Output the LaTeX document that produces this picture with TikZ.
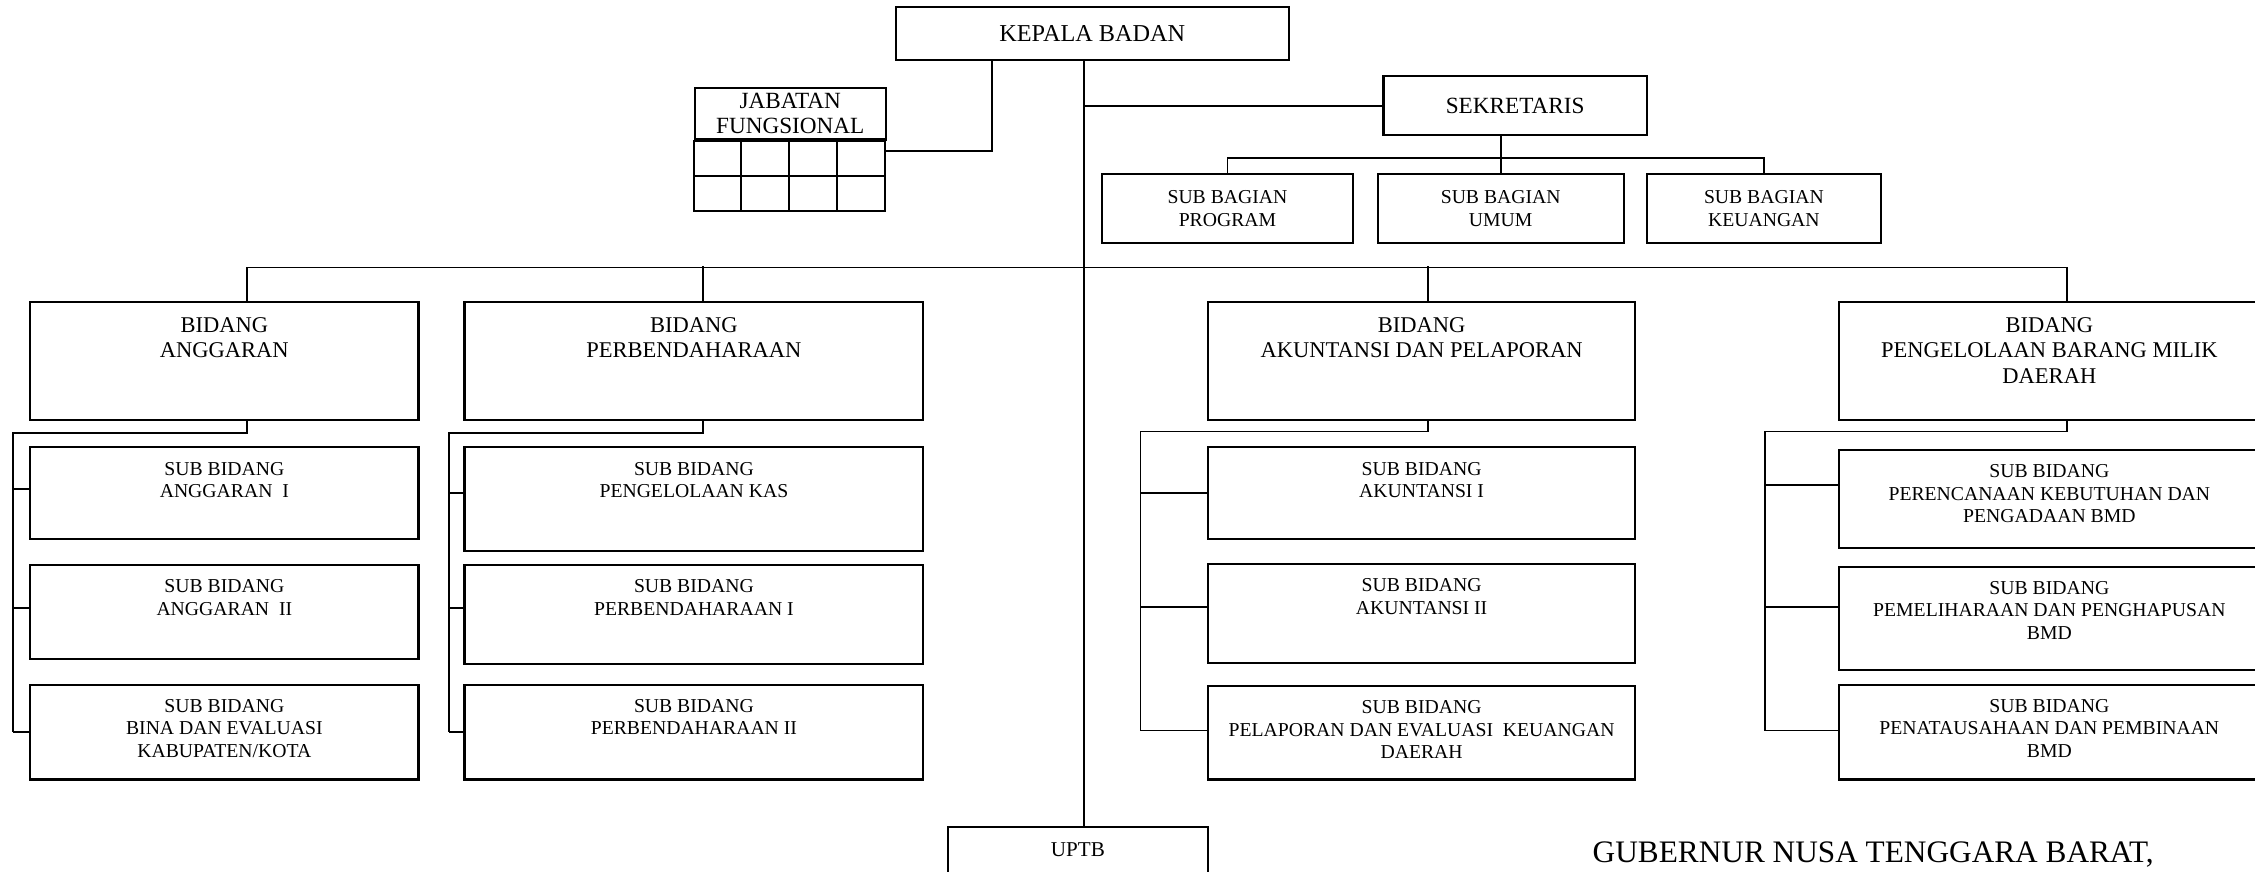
\documentclass[tikz,border=0pt]{standalone}
\usepackage{fontspec}
\setmainfont{Liberation Serif}
\usetikzlibrary{calc}

\def\pu{0.01438cm}

\tikzset{
  box/.style 2 args={draw, line width=0.6pt, minimum width=#1*\pu, minimum height=#2*\pu, inner sep=0pt, align=center},
  ln/.style={line width=0.5pt},
  ttl/.style={anchor=north, align=center, inner sep=0pt, yshift=-#1*\pu},
  big/.style={font=\fontsize{6.4}{7.2}\selectfont},
  sml/.style={font=\fontsize{5.6}{6.4}\selectfont},
}

\begin{document}
\begin{tikzpicture}[x=\pu, y=-\pu]
        \useasboundingbox (0,0) rectangle (1568,606);

        % Top level
        \node[box={273}{37}, font=\fontsize{6.9}{8}\selectfont] (kep) at (759.5,23.5) {KEPALA BADAN};
        \node[box={183}{41}, font=\fontsize{6.6}{8}\selectfont] (sek) at (1053.5,73.5) {SEKRETARIS};
        \node[box={133}{36}, font=\fontsize{6.6}{7}\selectfont] (jab) at (549.5,79) {JABATAN\\FUNGSIONAL};

        % Jabatan fungsional grid
        \draw[line width=0.6pt] (jab.south west) rectangle ++(133,49);
        \draw[line width=0.6pt] ($(jab.south west)+(0,24.5)$) -- ++(133,0);
        \foreach \i in {1,2,3}{
            \draw[line width=0.6pt] ($(jab.south west)+(\i*33.25,0)$) -- ++(0,49);
        }

        % Sub bagian
        \node[box={175}{48}, sml] (prog) at (853.5,145) {SUB BAGIAN\\PROGRAM};
        \node[box={171}{48}, sml] (umum) at (1043.5,145) {SUB BAGIAN\\UMUM};
        \node[box={163}{48}, sml] (keu) at (1226.5,145) {SUB BAGIAN\\KEUANGAN};

        % Bidang
        \node[box={270}{82}, label={[ttl=11,big]north:{BIDANG\\ANGGARAN}}] (ang) at (156,251) {};
        \node[box={319}{82}, label={[ttl=11,big]north:{BIDANG\\PERBENDAHARAAN}}] (per) at (482.5,251) {};
        \node[box={297}{82}, label={[ttl=11,big]north:{BIDANG\\AKUNTANSI DAN PELAPORAN}}] (aku) at (988.5,251) {};
        \node[box={292}{82}, label={[ttl=11,big]north:{BIDANG\\PENGELOLAAN BARANG MILIK\\DAERAH}}] (bmd) at (1425,251) {};

        % Sub bidang anggaran
        \node[box={270}{64}, label={[ttl=10.5,sml]north:{SUB BIDANG\\ANGGARAN\ \ I}}] (sa1) at (156,343) {};
        \node[box={270}{65}, label={[ttl=10.5,sml]north:{SUB BIDANG\\ANGGARAN\ \ II}}] (sa2) at (156,425.5) {};
        \node[box={270}{66}, label={[ttl=10.5,sml]north:{SUB BIDANG\\BINA DAN EVALUASI\\KABUPATEN/KOTA}}] (sa3) at (156,509) {};

        % Sub bidang perbendaharaan
        \node[box={319}{72}, label={[ttl=10.5,sml]north:{SUB BIDANG\\PENGELOLAAN KAS}}] (sb1) at (482.5,347) {};
        \node[box={319}{69}, label={[ttl=10.5,sml]north:{SUB BIDANG\\PERBENDAHARAAN I}}] (sb2) at (482.5,427.5) {};
        \node[box={319}{66}, label={[ttl=10.5,sml]north:{SUB BIDANG\\PERBENDAHARAAN II}}] (sb3) at (482.5,509) {};

        % Sub bidang akuntansi
        \node[box={297}{64}, label={[ttl=10.5,sml]north:{SUB BIDANG\\AKUNTANSI I}}] (sc1) at (988.5,343) {};
        \node[box={297}{69}, label={[ttl=10.5,sml]north:{SUB BIDANG\\AKUNTANSI II}}] (sc2) at (988.5,426.5) {};
        \node[box={297}{65}, label={[ttl=10.5,sml]north:{SUB BIDANG\\PELAPORAN DAN EVALUASI\ \ KEUANGAN\\DAERAH}}] (sc3) at (988.5,509.5) {};

        % Sub bidang BMD
        \node[box={292}{68}, label={[ttl=10.5,sml]north:{SUB BIDANG\\PERENCANAAN KEBUTUHAN DAN\\PENGADAAN BMD}}] (sd1) at (1425,347) {};
        \node[box={292}{72}, label={[ttl=10.5,sml]north:{SUB BIDANG\\PEMELIHARAAN DAN PENGHAPUSAN\\BMD}}] (sd2) at (1425,430) {};
        \node[box={292}{66}, label={[ttl=10.5,sml]north:{SUB BIDANG\\PENATAUSAHAAN DAN PEMBINAAN\\BMD}}] (sd3) at (1425,509) {};

        % UPTB and signature
        \node[box={181}{65}, label={[ttl=11,font=\fontsize{6}{7}\selectfont]north:UPTB}] (uptb) at (749.5,607.5) {};
        \node[anchor=base west, inner sep=0pt, font=\fontsize{8.9}{10}\selectfont] (gub) at (1107,600) {GUBERNUR NUSA TENGGARA BARAT,};

        % Trunk and top connectors
        \coordinate (trk) at (754,186);
        \draw[ln] (kep.south -| trk) -- (uptb.north -| trk);
        \coordinate (jf) at (616,105);
        \draw[ln] (kep.south -| 690,0) |- (jf);
        \draw[ln] (trk |- sek.west) -- (sek.west);
        \draw[ln] (sek.south -| umum.north) -- (umum.north);
        \draw[ln] (prog.north) |- (umum.north |- 0,110) -| (keu.north);

        % Bus to bidang
        \draw[ln] ($(ang.north)+(16,0)$) |- (trk) -| ($(bmd.north)+(12,0)$);
        \draw[ln] ($(per.north)+(6.5,0)$) -- ++(0,-24);
        \draw[ln] ($(aku.north)+(4.5,0)$) -- ++(0,-24);

        % Rails to sub bidang
        \coordinate (r1) at (9,301);
        \draw[ln] ($(ang.south)+(16,0)$) |- (r1) -- (9,509);
        \foreach \s/\t in {sa1/340, sa2/423, sa3/509}{
            \draw[ln] (9,\t) -- (\s.west |- 0,\t);
        }
        \coordinate (r2) at (312,301);
        \draw[ln] ($(per.south)+(6.5,0)$) |- (r2) -- (312,509);
        \foreach \s/\t in {sb1/343, sb2/423, sb3/509}{
            \draw[ln] (312,\t) -- (\s.west |- 0,\t);
        }
        \coordinate (r3) at (793,300);
        \draw[ln] ($(aku.south)+(4.5,0)$) |- (r3) -- (793,508);
        \foreach \s/\t in {sc1/343, sc2/422, sc3/508}{
            \draw[ln] (793,\t) -- (\s.west |- 0,\t);
        }
        \coordinate (r4) at (1227,300);
        \draw[ln] ($(bmd.south)+(12,0)$) |- (r4) -- (1227,508);
        \foreach \s/\t in {sd1/337, sd2/422, sd3/508}{
            \draw[ln] (1227,\t) -- (\s.west |- 0,\t);
        }
\end{tikzpicture}
\end{document}
